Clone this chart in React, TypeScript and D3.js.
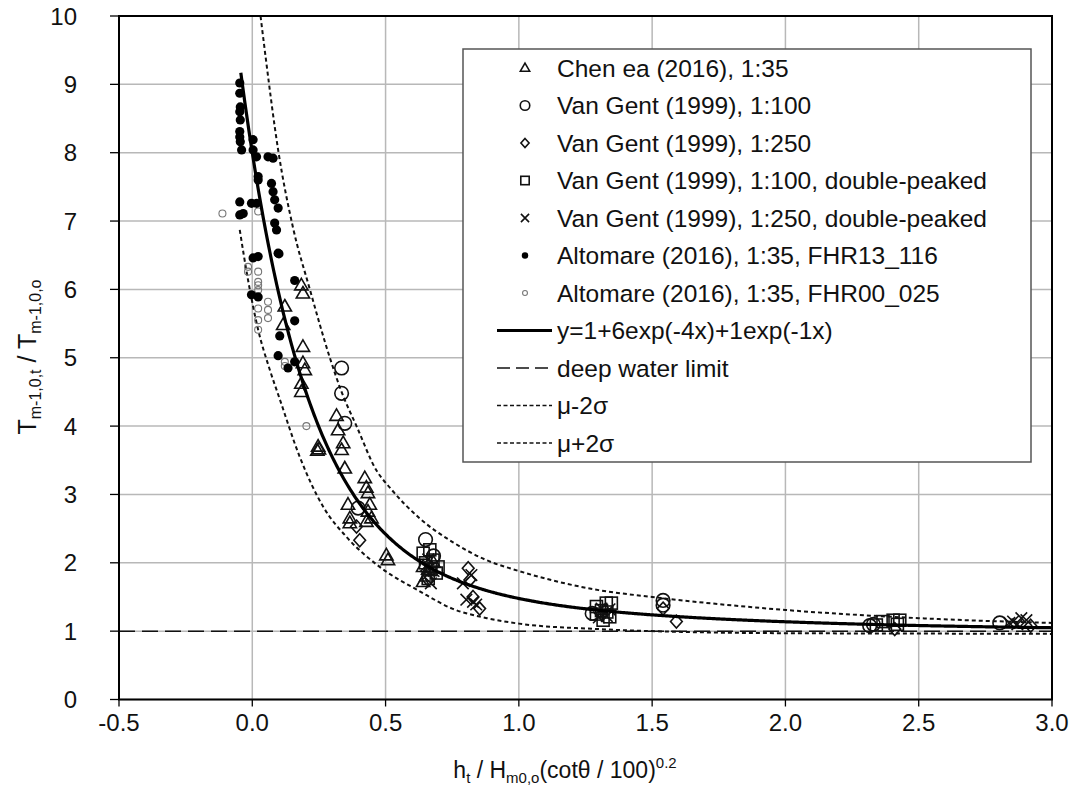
import React from "react";
import * as d3 from "d3";

const xTicks = [-0.5, 0, 0.5, 1.0, 1.5, 2.0, 2.5, 3.0];
const yTicks = [0, 1, 2, 3, 4, 5, 6, 7, 8, 9, 10];

const chen: [number, number][] = [
  [0.184, 6.06], [0.19, 5.94], [0.122, 5.75], [0.116, 5.48], [0.19, 5.16], [0.19, 4.92], [0.197, 4.82],
  [0.184, 4.62], [0.184, 4.5], [0.316, 4.15], [0.322, 3.94], [0.341, 3.75], [0.247, 3.7], [0.25, 3.66],
  [0.244, 3.64], [0.335, 3.65], [0.347, 3.38], [0.422, 3.24], [0.428, 3.1], [0.434, 3.02], [0.359, 2.85],
  [0.441, 2.85], [0.434, 2.75], [0.366, 2.65], [0.366, 2.58], [0.447, 2.65], [0.428, 2.6], [0.503, 2.11],
  [0.509, 2.04], [0.641, 1.94], [0.641, 1.72], [0.653, 1.8], [0.66, 1.9], [0.68, 2.0],
];
const vg100: [number, number][] = [
  [0.335, 4.85], [0.335, 4.48], [0.347, 4.04], [0.397, 2.8], [0.65, 2.34], [0.68, 2.1], [1.541, 1.45],
  [1.541, 1.38], [1.275, 1.26], [2.316, 1.08], [2.33, 1.1], [2.804, 1.12],
];
const vg250: [number, number][] = [
  [0.391, 2.53], [0.403, 2.33], [0.81, 1.92], [0.816, 1.75], [0.828, 1.5], [0.853, 1.33], [1.541, 1.33],
  [1.591, 1.14], [2.92, 1.08], [2.41, 1.03], [0.66, 1.75],
];
const vg100dp: [number, number][] = [
  [0.641, 2.14], [0.666, 2.19], [0.678, 2.04], [0.697, 1.94], [0.69, 1.85], [0.66, 1.77], [0.65, 2.0],
  [0.67, 1.9], [1.291, 1.36], [1.328, 1.41], [1.347, 1.41], [1.341, 1.21], [1.291, 1.25], [1.316, 1.16],
  [1.31, 1.3], [1.33, 1.28], [2.366, 1.14], [2.404, 1.16], [2.429, 1.16], [2.341, 1.09], [2.42, 1.1],
];
const vg250dp: [number, number][] = [
  [0.822, 1.82], [0.79, 1.7], [0.803, 1.46], [0.828, 1.43], [0.84, 1.39], [0.66, 2.05], [0.68, 1.88],
  [0.67, 1.7], [0.65, 1.95], [1.31, 1.33], [1.33, 1.22], [1.3, 1.2], [1.34, 1.32], [2.854, 1.14],
  [2.885, 1.19], [2.904, 1.16], [2.87, 1.1], [2.84, 1.12],
];
const alt116: [number, number][] = [
  [-0.047, 9.02], [-0.047, 8.87], [-0.045, 8.67], [-0.047, 8.6], [-0.045, 8.48], [-0.047, 8.31],
  [-0.047, 8.23], [-0.045, 8.16], [-0.04, 8.04], [0.003, 8.19], [0.003, 8.04], [0.016, 7.94], [0.022, 7.65],
  [0.022, 7.6], [0.059, 7.94], [0.078, 7.92], [0.072, 7.55], [0.078, 7.43], [0.084, 7.31], [0.097, 7.19],
  [0.084, 6.97], [0.091, 6.87], [0.1, 6.52], [-0.047, 7.28], [-0.034, 7.11], [-0.047, 7.09], [-0.003, 7.26],
  [0.016, 7.26], [0.003, 6.46], [0.022, 6.48], [0.159, 6.13], [-0.003, 5.92], [0.022, 5.89], [0.159, 5.54],
  [0.103, 5.32], [0.097, 5.03], [0.134, 4.85], [0.159, 4.94], [0.097, 6.53],
];
const alt025: [number, number][] = [
  [-0.112, 7.11], [0.022, 7.14], [-0.016, 6.33], [-0.016, 6.26], [0.022, 6.26], [0.022, 6.11], [0.022, 6.06],
  [0.022, 5.99], [0.059, 5.82], [0.022, 5.72], [0.059, 5.7], [0.059, 5.58], [0.022, 5.55], [0.022, 5.41],
  [0.122, 4.94], [0.122, 4.88], [0.203, 4.0],
];
const lowerBand: [number, number][] = [
  [-0.047, 6.87], [-0.016, 6.14], [0.022, 5.41], [0.066, 4.82], [0.1, 4.43], [0.178, 3.55], [0.266, 2.82],
  [0.353, 2.38], [0.478, 1.94], [0.63, 1.58], [0.75, 1.33], [0.88, 1.19], [1.0, 1.11], [1.3, 1.03],
  [1.6, 0.99], [2.0, 0.97], [2.5, 0.965], [3.0, 0.96],
];
const upperBand: [number, number][] = [
  [0.031, 10], [0.05, 9.4], [0.097, 8.04], [0.153, 6.9], [0.216, 6.0], [0.291, 5.0], [0.335, 4.5],
  [0.391, 4.0], [0.466, 3.35], [0.516, 3.1], [0.628, 2.65], [0.753, 2.3], [0.878, 2.04], [1.0, 1.88],
  [1.3, 1.6], [1.5, 1.5], [2.0, 1.31], [2.5, 1.19], [3.0, 1.12],
];
const fitStart = -0.043;
const fitEnd = 3.0;
const fitFn = (x: number) => 1 + 6 * Math.exp(-4 * x) + 1 * Math.exp(-1 * x);
const deepWater = 1;

const legendLabels = [
  "Chen ea (2016), 1:35",
  "Van Gent (1999), 1:100",
  "Van Gent (1999), 1:250",
  "Van Gent (1999), 1:100, double-peaked",
  "Van Gent (1999), 1:250, double-peaked",
  "Altomare (2016), 1:35, FHR13_116",
  "Altomare (2016), 1:35, FHR00_025",
  "y=1+6exp(-4x)+1exp(-1x)",
  "deep water limit",
  "μ-2σ",
  "μ+2σ",
];

const L = 119, R = 1052, T = 16, B = 699.5;
const FONT = "'Liberation Sans', Arial, sans-serif";

type Kind = "tri" | "circ" | "diam" | "sq" | "cross" | "dot" | "small";

function Marker({ kind, cx, cy, s = 1 }: { kind: Kind; cx: number; cy: number; s?: number }) {
  const st = { fill: "none", stroke: "#111", strokeWidth: 1.6 };
  if (kind === "tri") {
    const a = 7 * s;
    return <path d={`M${cx},${cy - a}L${cx + a * 0.95},${cy + a * 0.65}L${cx - a * 0.95},${cy + a * 0.65}Z`} {...st} />;
  }
  if (kind === "circ") return <circle cx={cx} cy={cy} r={6.8 * s} {...st} />;
  if (kind === "diam") {
    const a = 6.5 * s;
    return <path d={`M${cx},${cy - a}L${cx + a * 0.9},${cy}L${cx},${cy + a}L${cx - a * 0.9},${cy}Z`} {...st} />;
  }
  if (kind === "sq") {
    const a = 6 * s;
    return <rect x={cx - a} y={cy - a} width={2 * a} height={2 * a} {...st} />;
  }
  if (kind === "cross") {
    const a = 5.8 * s;
    return <path d={`M${cx - a},${cy - a}L${cx + a},${cy + a}M${cx - a},${cy + a}L${cx + a},${cy - a}`} {...st} />;
  }
  if (kind === "dot") return <circle cx={cx} cy={cy} r={4.6 * s} fill="#000" />;
  return <circle cx={cx} cy={cy} r={3.5 * s} fill="none" stroke="#777" strokeWidth={1.1} />;
}

const fmtX = (t: number) => t.toFixed(1);

export default function App() {
  const x = d3.scaleLinear().domain([-0.5, 3.0]).range([L, R]);
  const y = d3.scaleLinear().domain([0, 10]).range([B, T]);
  const line = d3.line<[number, number]>().x((d) => x(d[0])).y((d) => y(d[1])).curve(d3.curveMonotoneX);
  const fitPts: [number, number][] = d3.range(fitStart, fitEnd + 1e-9, 0.005).map((v) => [v, fitFn(v)]);

  const series: { kind: Kind; data: [number, number][] }[] = [
    { kind: "small", data: alt025 },
    { kind: "dot", data: alt116 },
    { kind: "tri", data: chen },
    { kind: "circ", data: vg100 },
    { kind: "diam", data: vg250 },
    { kind: "sq", data: vg100dp },
    { kind: "cross", data: vg250dp },
  ];
  const legendKinds: Kind[] = ["tri", "circ", "diam", "sq", "cross", "dot", "small"];

  const lgX = 463, lgY = 49, lgW = 568, lgH = 413;
  const rowY = (i: number) => 68 + i * 37.5;

  return (
    <svg width={1083} height={798} style={{ position: "absolute", left: 0, top: 0, background: "#fff" }} fontFamily={FONT}>
      <rect x={0} y={0} width={1083} height={798} fill="#fff" />
      {xTicks.map((t) => (
        <line key={"gx" + t} x1={x(t)} x2={x(t)} y1={T} y2={B} stroke="#b8b8b8" strokeWidth={1.5} />
      ))}
      {yTicks.map((t) => (
        <line key={"gy" + t} x1={L} x2={R} y1={y(t)} y2={y(t)} stroke="#b8b8b8" strokeWidth={1.5} />
      ))}
      {xTicks.map((t) => (
        <line key={"tx" + t} x1={x(t)} x2={x(t)} y1={B} y2={B + 7} stroke="#000" strokeWidth={1.3} />
      ))}
      {yTicks.map((t) => (
        <line key={"ty" + t} x1={L - 9} x2={L} y1={y(t)} y2={y(t)} stroke="#000" strokeWidth={1.3} />
      ))}
      {yTicks.map((t) => (
        <text key={"ly" + t} x={77} y={y(t) + 8.5} textAnchor="end" fontSize={24} fill="#111">
          {t}
        </text>
      ))}
      {xTicks.map((t) => (
        <text key={"lx" + t} x={x(t)} y={731} textAnchor="middle" fontSize={24} fill="#111">
          {fmtX(t)}
        </text>
      ))}
      <line x1={L} x2={R} y1={y(deepWater)} y2={y(deepWater)} stroke="#111" strokeWidth={1.5} strokeDasharray="16,7" />
      <path d={line(lowerBand) || ""} fill="none" stroke="#111" strokeWidth={2} strokeDasharray="4,3" />
      <path d={line(upperBand) || ""} fill="none" stroke="#111" strokeWidth={2} strokeDasharray="4,3" />
      {series.map((s, si) =>
        s.data.map((d, i) => <Marker key={si + "-" + i} kind={s.kind} cx={x(d[0])} cy={y(d[1])} />)
      )}
      <path d={line(fitPts) || ""} fill="none" stroke="#000" strokeWidth={3.2} />
      <rect x={L} y={T} width={R - L} height={B - T} fill="none" stroke="#000" strokeWidth={2} />
      <rect x={lgX} y={lgY} width={lgW} height={lgH} fill="#fff" stroke="#555" strokeWidth={1.5} />
      {legendLabels.map((lab, i) => (
        <g key={"lg" + i}>
          {i < 7 ? (
            <Marker kind={legendKinds[i]} cx={525} cy={rowY(i)} s={0.7} />
          ) : i === 7 ? (
            <line x1={497} x2={552} y1={rowY(i)} y2={rowY(i)} stroke="#000" strokeWidth={3.2} />
          ) : i === 8 ? (
            <line x1={497} x2={552} y1={rowY(i)} y2={rowY(i)} stroke="#111" strokeWidth={1.5} strokeDasharray="13,6" />
          ) : (
            <line x1={497} x2={552} y1={rowY(i)} y2={rowY(i)} stroke="#111" strokeWidth={1.6} strokeDasharray="4,2.5" />
          )}
          <text x={557} y={rowY(i) + 8.5} fontSize={24.5} fill="#111">
            {lab}
          </text>
        </g>
      ))}
      <text x={565} y={778} textAnchor="middle" fontSize={23} fill="#111">
        <tspan>h</tspan>
        <tspan fontSize={15} dy={5}>t</tspan>
        <tspan dy={-5}> / H</tspan>
        <tspan fontSize={15} dy={5}>m0,o</tspan>
        <tspan dy={-5}>(cotθ / 100)</tspan>
        <tspan fontSize={15} dy={-10}>0.2</tspan>
      </text>
      <text transform="translate(36,357) rotate(-90)" textAnchor="middle" fontSize={25} fill="#111">
        <tspan>T</tspan>
        <tspan fontSize={16} dy={5}>m-1,0,t</tspan>
        <tspan dy={-5}> / T</tspan>
        <tspan fontSize={16} dy={5}>m-1,0,o</tspan>
      </text>
    </svg>
  );
}
